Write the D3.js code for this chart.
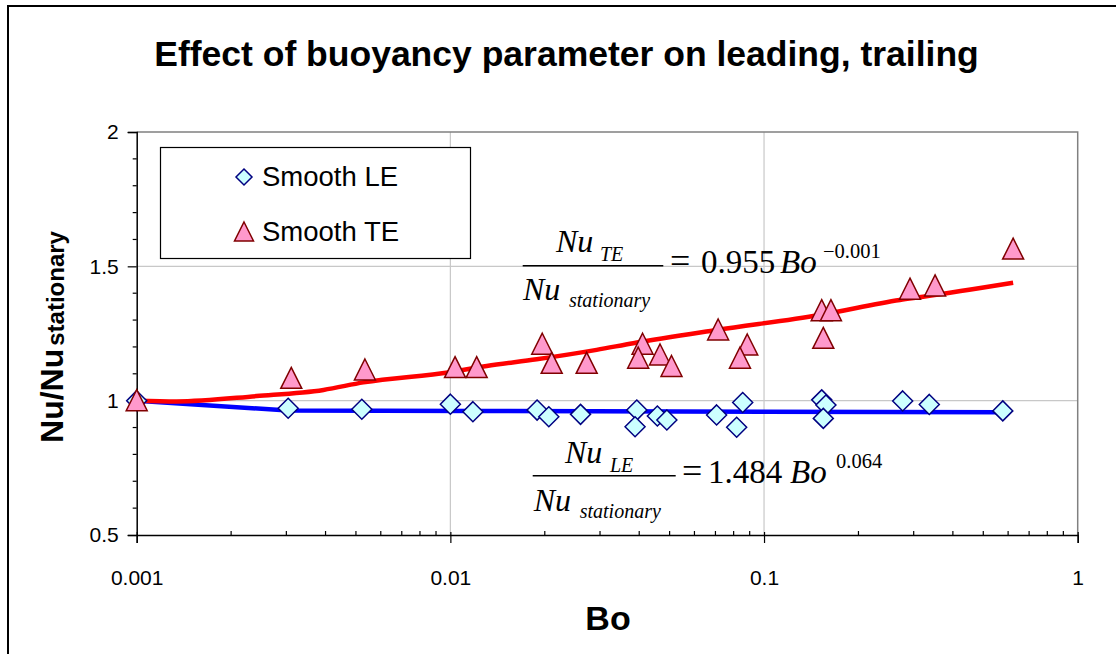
<!DOCTYPE html>
<html>
<head>
<meta charset="utf-8">
<script src="https://cdn.jsdelivr.net/npm/d3@7/dist/d3.min.js"></script>
<style>
  body { margin: 0; background: #fff; }
  svg { display: block; }
  .sans { font-family: "Liberation Sans", Arial, sans-serif; }
  .serif { font-family: "Liberation Serif", "Times New Roman", serif; }
</style>
</head>
<body>
<div id="chart"></div>
<script>
// Chart data
const chartTitle = 'Effect of buoyancy parameter on leading, trailing';
const xTicks = [0.001, 0.01, 0.1, 1];
const xTickLabels = ['0.001', '0.01', '0.1', '1'];
const yTicks = [0.5, 1, 1.5, 2];
const yTickLabels = ['0.5', '1', '1.5', '2'];
const seriesNames = ['Smooth LE', 'Smooth TE'];

// Smooth LE points [Bo, Nu/Nu_stationary]
const leBo  = [0.001, 0.00304, 0.00522, 0.0100, 0.0118, 0.0189, 0.0206, 0.0260, 0.0393, 0.0388, 0.0457,
               0.0490, 0.0706, 0.0855, 0.0818, 0.1527, 0.1575, 0.1545, 0.2767, 0.3364, 0.577];
const leNu  = [1.000, 0.972, 0.968, 0.987, 0.959, 0.965, 0.940, 0.949, 0.965, 0.903, 0.943,
               0.928, 0.947, 0.993, 0.901, 1.003, 0.984, 0.934, 0.999, 0.986, 0.962];

// Smooth TE points
const teBo  = [0.001, 0.00311, 0.00534, 0.01035, 0.01213, 0.01963, 0.02104, 0.0272, 0.0410, 0.0397, 0.0466,
               0.0507, 0.0714, 0.0884, 0.0838, 0.1527, 0.1634, 0.1545, 0.292, 0.351, 0.6225];
const teNu  = [1.000, 1.083, 1.114, 1.123, 1.123, 1.210, 1.139, 1.139, 1.210, 1.158, 1.170,
               1.127, 1.263, 1.207, 1.158, 1.335, 1.335, 1.232, 1.415, 1.427, 1.564];

// Fitted curves as drawn
const leLineBo = [0.001, 0.00304, 0.0118, 0.1, 0.577];
const leLineNu = [1.000, 0.963, 0.962, 0.959, 0.957];
const teLineBo = [0.001, 0.00134, 0.00241, 0.00394, 0.00528, 0.00997, 0.01306, 0.01884, 0.02926,
                  0.0383, 0.0706, 0.1507, 0.271, 0.3215, 0.6225];
const teLineNu = [1.000, 0.997, 1.017, 1.040, 1.068, 1.106, 1.129, 1.154, 1.189,
                  1.214, 1.263, 1.319, 1.375, 1.387, 1.439];

const W = 1116, H = 654;
const plot = { left: 136.7, right: 1077.7, top: 132, bottom: 535 };

const svg = d3.select('#chart').append('svg')
  .attr('width', W).attr('height', H);

// outer chart frame
svg.append('rect')
  .attr('x', 8).attr('y', 6).attr('width', 1200).attr('height', 800)
  .attr('fill', '#fff').attr('stroke', '#000').attr('stroke-width', 2);

const x = d3.scaleLog().domain([0.001, 1]).range([plot.left, plot.right]);
const y = d3.scaleLinear().domain([0.5, 2]).range([plot.bottom, plot.top]);

// title
svg.append('text').attr('class', 'sans')
  .attr('x', 566.5).attr('y', 66)
  .attr('text-anchor', 'middle')
  .style('font-size', '35.5px').style('font-weight', 'bold')
  .text(chartTitle);

// gridlines
const grid = svg.append('g');
grid.selectAll('.hg').data([1, 1.5]).enter().append('line')
  .attr('x1', plot.left).attr('x2', plot.right)
  .attr('y1', d => y(d)).attr('y2', d => y(d))
  .attr('stroke', '#c8c8c8').attr('stroke-width', 1.2);
grid.selectAll('.vg').data([0.01, 0.1]).enter().append('line')
  .attr('x1', d => x(d)).attr('x2', d => x(d))
  .attr('y1', plot.top).attr('y2', plot.bottom)
  .attr('stroke', '#c8c8c8').attr('stroke-width', 1.2);

// plot area border (top / right)
svg.append('path')
  .attr('d', `M${plot.left},${plot.top}H${plot.right}V${plot.bottom}`)
  .attr('fill', 'none').attr('stroke', '#808080').attr('stroke-width', 1.5);

// minor ticks
const xMinor = [];
for (let e = -3; e < 0; e++) for (let m = 2; m <= 9; m++) xMinor.push(m * Math.pow(10, e));
const yMinor = d3.range(0.6, 2.0, 0.1).filter(v => Math.abs(v * 2 - Math.round(v * 2)) > 0.01);

// x axis
const xAxis = svg.append('g')
  .attr('class', 'sans')
  .attr('transform', `translate(0,${plot.bottom})`)
  .call(d3.axisBottom(x).tickValues(xTicks).tickSize(8).tickFormat((d, i) => xTickLabels[i]).tickPadding(27));
xAxis.select('.domain').attr('stroke', '#000').attr('stroke-width', 1.5);
xAxis.selectAll('.tick line').attr('y1', -3).attr('stroke-width', 1.2);
xAxis.selectAll('.tick text').style('font-size', '21px').attr('fill', '#000');
xAxis.selectAll('.xminor').data(xMinor).enter().append('line')
  .attr('x1', d => x(d)).attr('x2', d => x(d))
  .attr('y1', 0).attr('y2', -4)
  .attr('stroke', '#000').attr('stroke-width', 1.2);

// y axis
const yAxis = svg.append('g')
  .attr('class', 'sans')
  .attr('transform', `translate(${plot.left},0)`)
  .call(d3.axisLeft(y).tickValues(yTicks).tickSize(9).tickFormat((d, i) => yTickLabels[i]).tickPadding(9));
yAxis.select('.domain').attr('stroke', '#000').attr('stroke-width', 1.5);
yAxis.selectAll('.tick line').attr('stroke-width', 1.2);
yAxis.selectAll('.tick text').style('font-size', '21px').attr('fill', '#000');
yAxis.selectAll('.yminor').data(yMinor).enter().append('line')
  .attr('x1', 0).attr('x2', -4)
  .attr('y1', d => y(d)).attr('y2', d => y(d))
  .attr('stroke', '#000').attr('stroke-width', 1.2);

// axis titles
svg.append('text').attr('class', 'sans')
  .attr('x', 608).attr('y', 630).attr('text-anchor', 'middle')
  .style('font-size', '34px').style('font-weight', 'bold')
  .text('Bo');

const yTitle = svg.append('text').attr('class', 'sans')
  .attr('transform', 'translate(63,337) rotate(-90)')
  .attr('text-anchor', 'middle')
  .style('font-weight', 'bold');
yTitle.append('tspan').style('font-size', '32px').text('Nu/Nu');
yTitle.append('tspan').style('font-size', '24px').attr('dx', 3).attr('dy', 1).text('stationary');

// fitted lines (LE drawn straight, TE smoothed)
const lineLE = d3.line().x(d => x(d[0])).y(d => y(d[1]));
const lineTE = d3.line().x(d => x(d[0])).y(d => y(d[1])).curve(d3.curveMonotoneX);
svg.append('path')
  .datum(d3.zip(leLineBo, leLineNu))
  .attr('d', lineLE).attr('fill', 'none')
  .attr('stroke', '#0000ff').attr('stroke-width', 4.5).attr('stroke-linejoin', 'round');
svg.append('path')
  .datum(d3.zip(teLineBo, teLineNu))
  .attr('d', lineTE).attr('fill', 'none')
  .attr('stroke', '#ff0000').attr('stroke-width', 4.5).attr('stroke-linejoin', 'round');

// markers
const diamond = s => `M0,${-s}L${s},0L0,${s}L${-s},0Z`;
const triangle = s => `M0,${-s * 1.05}L${s},${s * 0.95}L${-s},${s * 0.95}Z`;

svg.append('g').selectAll('path')
  .data(d3.zip(leBo, leNu)).enter().append('path')
  .attr('d', diamond(10))
  .attr('transform', d => `translate(${x(d[0])},${y(d[1])})`)
  .attr('fill', '#ccffff').attr('stroke', '#000080').attr('stroke-width', 1.5);

svg.append('g').selectAll('path')
  .data(d3.zip(teBo, teNu)).enter().append('path')
  .attr('d', triangle(10.5))
  .attr('transform', d => `translate(${x(d[0])},${y(d[1])})`)
  .attr('fill', '#ff99cc').attr('stroke', '#800000').attr('stroke-width', 1.5);

// legend
const legend = svg.append('g').attr('class', 'sans');
legend.append('rect')
  .attr('x', 160.5).attr('y', 147.5).attr('width', 310).attr('height', 111)
  .attr('fill', '#fff').attr('stroke', '#000').attr('stroke-width', 1.2);
legend.append('path').attr('d', diamond(8))
  .attr('transform', 'translate(244,177)')
  .attr('fill', '#ccffff').attr('stroke', '#000080').attr('stroke-width', 1.5);
legend.append('path').attr('d', triangle(9.5))
  .attr('transform', 'translate(244,232)')
  .attr('fill', '#ff99cc').attr('stroke', '#800000').attr('stroke-width', 1.5);
legend.selectAll('.lt').data(seriesNames).enter().append('text')
  .attr('x', 262).attr('y', (d, i) => 186 + i * 55)
  .style('font-size', '27.5px')
  .text(d => d);

// equation annotations
function equation(g, eq) {
  const t = (xx, yy, size, italic, str) => g.append('text').attr('class', 'serif')
    .attr('x', xx).attr('y', yy)
    .style('font-size', size + 'px')
    .style('font-style', italic ? 'italic' : 'normal')
    .text(str);
  t(eq.numX, eq.numY, 32, true, 'Nu');
  t(eq.numSubX, eq.numY + 9, 20, true, eq.sub);
  g.append('line')
    .attr('x1', eq.barX1).attr('x2', eq.barX2)
    .attr('y1', eq.barY).attr('y2', eq.barY)
    .attr('stroke', '#000').attr('stroke-width', 1.5);
  t(eq.denX, eq.denY, 32, true, 'Nu');
  t(eq.denX + 46, eq.denY + 7, 20, true, 'stationary');
  t(eq.eqX, eq.eqY, 36, false, '=');
  t(eq.coefX, eq.eqY, 33, false, eq.coef);
  t(eq.boX, eq.eqY, 33, true, 'Bo');
  t(eq.expX, eq.eqY - 15, 20.5, false, eq.exp);
}

equation(svg.append('g'), {
  sub: 'TE', coef: '0.955', exp: '\u22120.001',
  numX: 556, numY: 252, numSubX: 600,
  barX1: 522.7, barX2: 663.3, barY: 265.7,
  denX: 523, denY: 300,
  eqX: 670, eqY: 273, coefX: 701, boX: 780, expX: 823
});
equation(svg.append('g'), {
  sub: 'LE', coef: '1.484', exp: '0.064',
  numX: 565, numY: 462.7, numSubX: 610,
  barX1: 532.7, barX2: 675.7, barY: 475.7,
  denX: 533.7, denY: 510.7,
  eqX: 682, eqY: 483.3, coefX: 708, boX: 790, expX: 836
});
</script>
</body>
</html>
